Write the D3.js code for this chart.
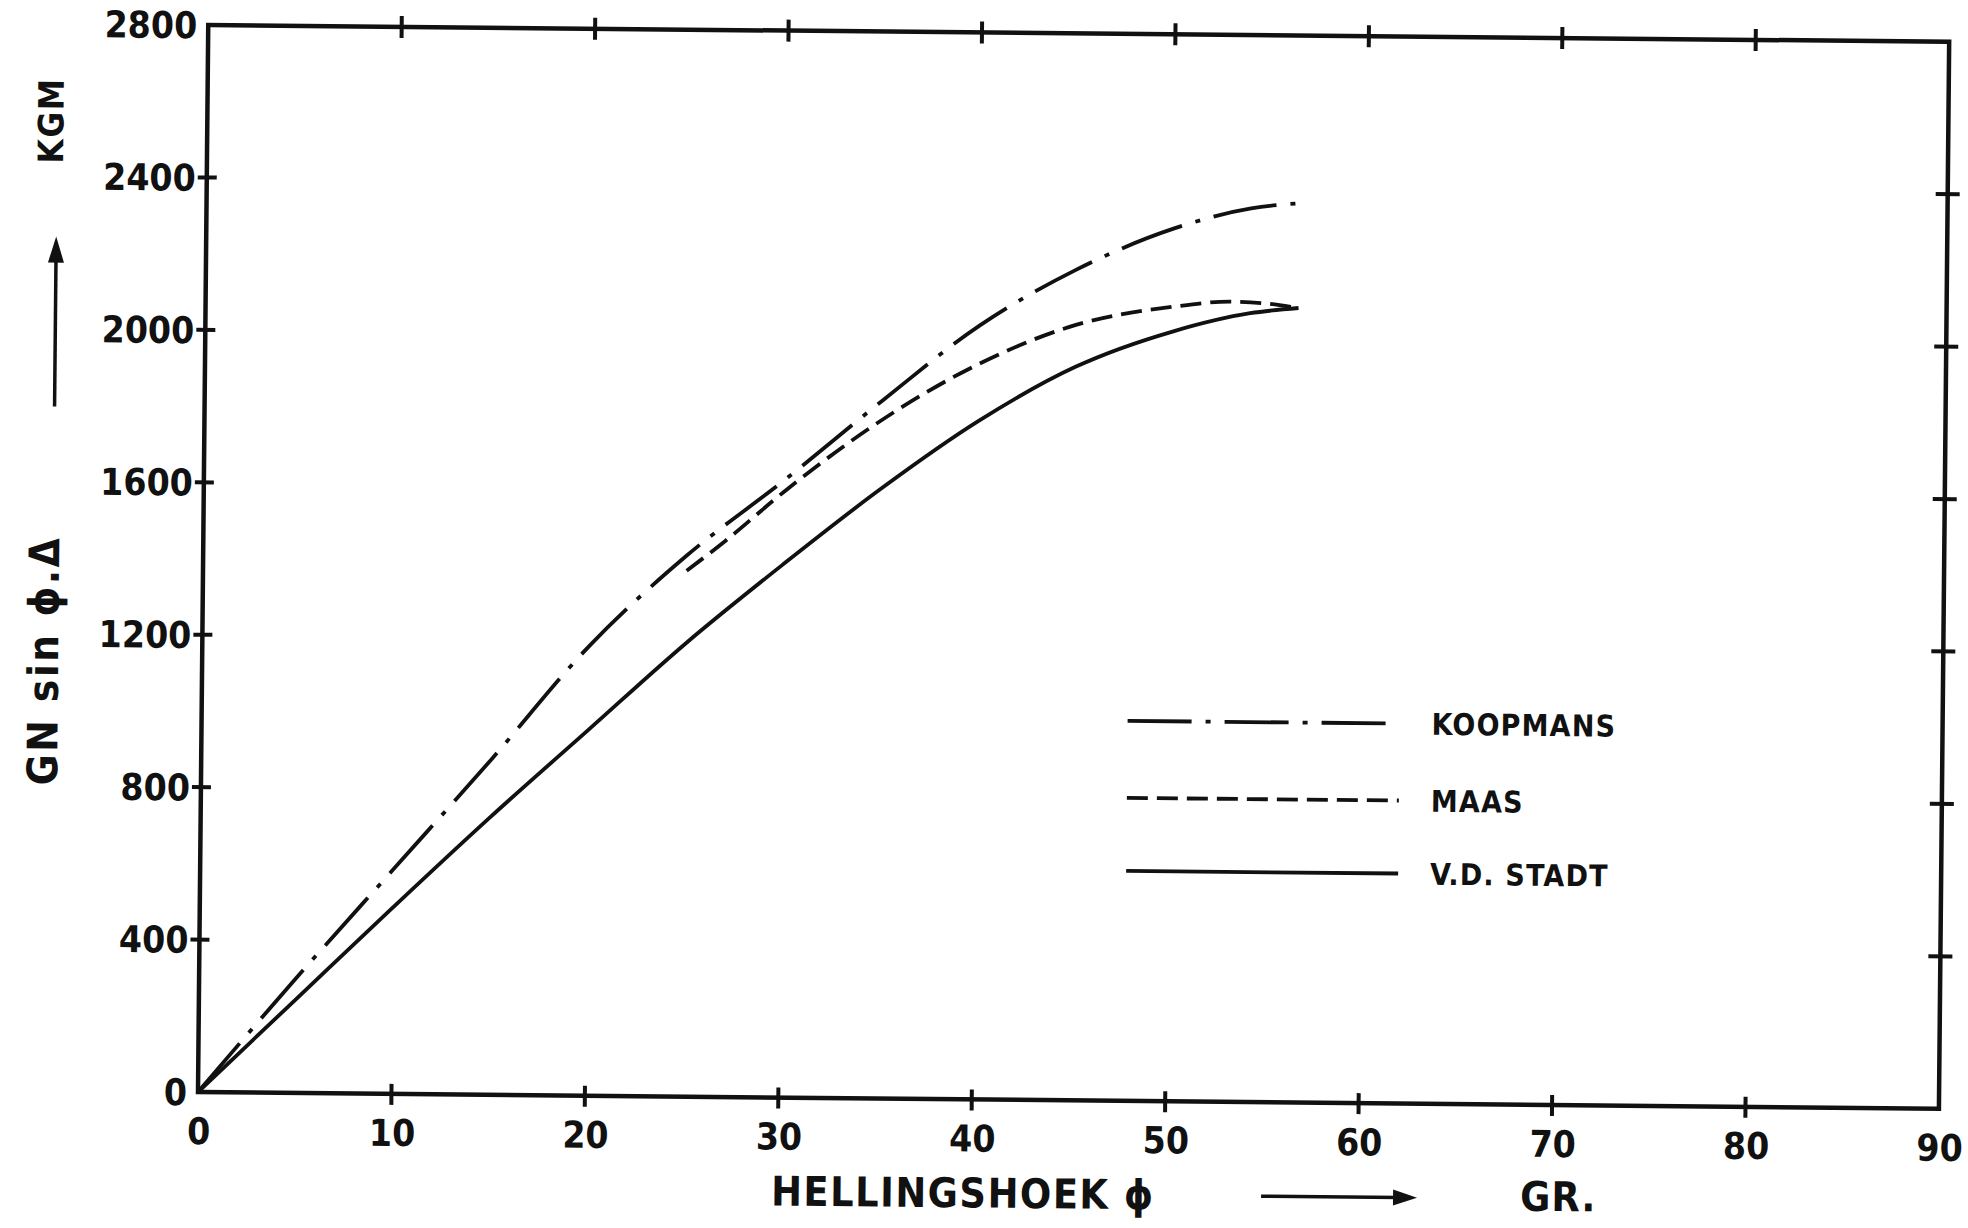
<!DOCTYPE html>
<html>
<head>
<meta charset="utf-8">
<title>Hellingshoek</title>
<script src="https://cdn.jsdelivr.net/npm/d3@7"></script>
<style>
  body { margin: 0; background: #fff; }
  text { font-family: "DejaVu Sans Condensed", "DejaVu Sans", sans-serif; font-weight: bold; fill: #111; }
</style>
</head>
<body>
<div id="chart"></div>
<script>
  // axis ticks
  const xTicks = [0, 10, 20, 30, 40, 50, 60, 70, 80, 90]
  const yTicks = [0, 400, 800, 1200, 1600, 2000, 2400, 2800]

  // curves (phi in degrees, GN sin phi . delta in kgm)
  const phiK = [0, 5, 10, 15, 20, 25, 30, 35, 40, 45, 50, 54, 56.5]
  const koopmans = [0, 300, 590, 880, 1180, 1420, 1620, 1830, 2030, 2180, 2290, 2345, 2360]

  const phiM = [25, 27, 30, 35, 40, 45, 50, 53, 55, 56.5]
  const maas = [1380, 1460, 1590, 1780, 1930, 2035, 2085, 2100, 2095, 2085]

  const phiS = [0, 5, 10, 15, 20, 25, 30, 35, 40, 45, 50, 54, 56.5]
  const stadt = [0, 245, 490, 730, 960, 1190, 1400, 1600, 1780, 1925, 2020, 2070, 2085]

  const series = [
    { name: "KOOPMANS", xs: phiK, ys: koopmans, dash: "64,14,5,14" },
    { name: "MAAS", xs: phiM, ys: maas, dash: "21,9" },
    { name: "V.D. STADT", xs: phiS, ys: stadt, dash: null }
  ]

  const width = 1968
  const height = 1228

  const x = d3.scaleLinear().domain([0, 90]).range([198, 1939])
  const y = d3.scaleLinear().domain([0, 2800]).range([1092, 25])

  const svg = d3.select("#chart")
    .append("svg")
    .attr("width", width)
    .attr("height", height)

  // the scan is slightly skewed
  const g = svg.append("g")
    .attr("transform", `rotate(0.55, ${x(0)}, ${y(0)})`)

  // frame
  g.append("rect")
    .attr("x", x(0))
    .attr("y", y(2800))
    .attr("width", x(90) - x(0))
    .attr("height", y(0) - y(2800))
    .attr("fill", "none")
    .attr("stroke", "#111")
    .attr("stroke-width", 4.5)

  const inner = xTicks.filter(d => d > 0 && d < 90)
  const innerY = yTicks.filter(d => d > 0 && d < 2800)

  const tickG = g.append("g").attr("stroke", "#111").attr("stroke-width", 4)
  // ticks on top and bottom
  tickG.selectAll(".tb").data(inner).enter().append("line")
    .attr("x1", d => x(d)).attr("x2", d => x(d))
    .attr("y1", y(0) - 10).attr("y2", y(0) + 11)
  tickG.selectAll(".tt").data(inner).enter().append("line")
    .attr("x1", d => x(d)).attr("x2", d => x(d))
    .attr("y1", y(2800) - 11).attr("y2", y(2800) + 11)
  // ticks on left and right
  tickG.selectAll(".tl").data(innerY).enter().append("line")
    .attr("y1", d => y(d)).attr("y2", d => y(d))
    .attr("x1", x(0) - 9).attr("x2", x(0) + 10)
  tickG.selectAll(".tr").data(innerY).enter().append("line")
    .attr("y1", d => y(d)).attr("y2", d => y(d))
    .attr("x1", x(90) - 12).attr("x2", x(90) + 12)

  // tick labels
  g.selectAll(".yl").data(yTicks).enter().append("text")
    .attr("x", x(0) - 11)
    .attr("y", d => y(d))
    .attr("dy", "0.36em")
    .attr("text-anchor", "end")
    .attr("font-size", 37)
    .text(d => d)

  g.selectAll(".xl").data(xTicks).enter().append("text")
    .attr("x", d => x(d) + 1)
    .attr("y", y(0) + 52)
    .attr("text-anchor", "middle")
    .attr("font-size", 37)
    .text(d => d)

  // curves
  const line = d3.line().curve(d3.curveMonotoneX)
  g.selectAll(".curve").data(series).enter().append("path")
    .attr("d", s => line(s.xs.map((v, i) => [x(v), y(s.ys[i])])))
    .attr("fill", "none")
    .attr("stroke", "#111")
    .attr("stroke-width", 3.8)
    .attr("stroke-dasharray", s => s.dash)

  // legend
  const legY = [712, 789, 862]
  const leg = g.selectAll(".leg").data(series).enter().append("g")
  leg.append("line")
    .attr("x1", 1124).attr("x2", 1396)
    .attr("y1", (d, i) => legY[i]).attr("y2", (d, i) => legY[i])
    .attr("stroke", "#111")
    .attr("stroke-width", 3.8)
    .attr("stroke-dasharray", d => d.dash)
  leg.append("text")
    .attr("x", 1428)
    .attr("y", (d, i) => legY[i] + 11)
    .attr("font-size", 30)
    .attr("letter-spacing", 1.2)
    .text(d => d.name)

  // axis titles
  g.append("text")
    .attr("x", 772)
    .attr("y", 1200)
    .attr("font-size", 41)
    .attr("letter-spacing", 1.5)
    .text("HELLINGSHOEK ϕ")

  g.append("text")
    .attr("x", 1521)
    .attr("y", 1198)
    .attr("font-size", 41)
    .attr("letter-spacing", 1)
    .text("GR.")

  const arrowX = g.append("g").attr("stroke", "#111").attr("fill", "#111")
  arrowX.append("line")
    .attr("x1", 1262).attr("x2", 1400)
    .attr("y1", 1186).attr("y2", 1186)
    .attr("stroke-width", 3.5)
  arrowX.append("path")
    .attr("d", "M1418,1186 L1394,1178 L1394,1194 Z")
    .attr("stroke", "none")

  g.append("text")
    .attr("transform", "translate(54,662) rotate(-90)")
    .attr("text-anchor", "middle")
    .attr("font-size", 42)
    .attr("letter-spacing", 2.5)
    .text("GN  sin ϕ.Δ")

  g.append("text")
    .attr("transform", "translate(54,122) rotate(-90)")
    .attr("text-anchor", "middle")
    .attr("font-size", 35)
    .attr("letter-spacing", 1.5)
    .text("KGM")

  const arrowY = g.append("g").attr("stroke", "#111").attr("fill", "#111")
  arrowY.append("line")
    .attr("x1", 48).attr("x2", 48)
    .attr("y1", 408).attr("y2", 256)
    .attr("stroke-width", 3.5)
  arrowY.append("path")
    .attr("d", "M48,238 L40,264 L56,264 Z")
    .attr("stroke", "none")
</script>
</body>
</html>
